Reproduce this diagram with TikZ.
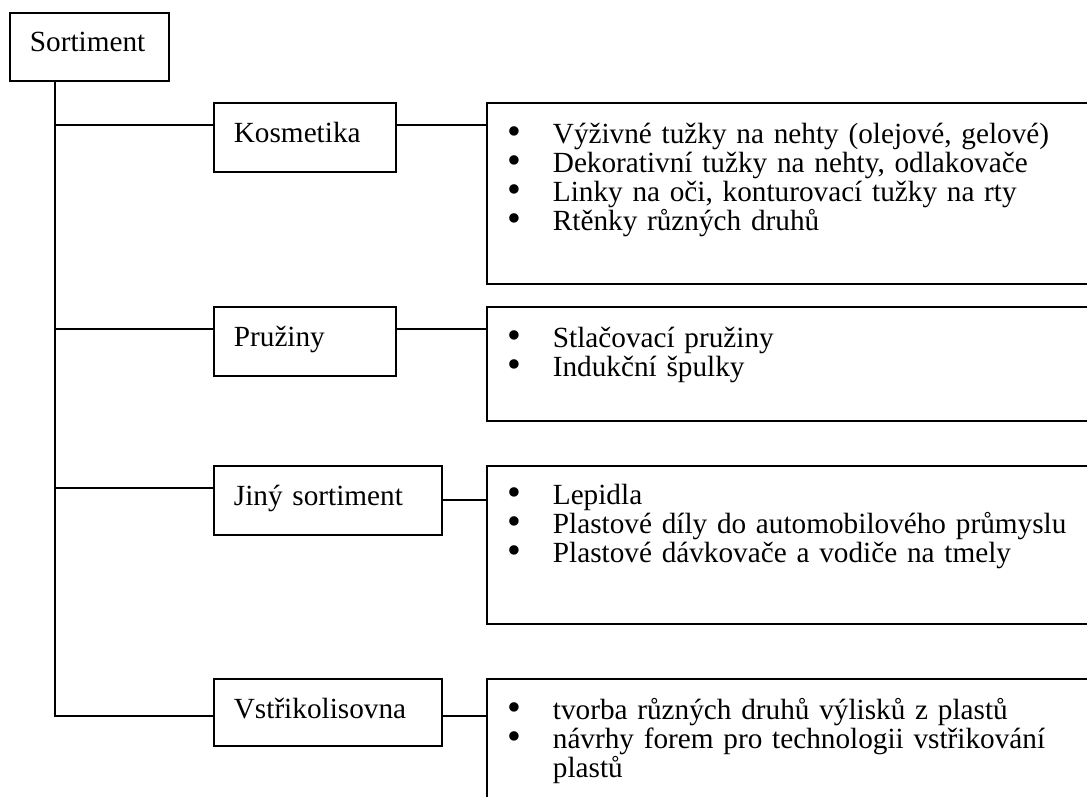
\documentclass[tikz,border=0pt]{standalone}
\usepackage{graphicx}
\usepackage{fontspec}
\setmainfont{Liberation Serif}
\usetikzlibrary{calc}
\newcommand{\bul}[1]{\makebox[18pt][l]{\smash{\raisebox{-0.4pt}{\scalebox{1.35}{\textbullet}}}}#1}
\newcommand{\cont}[1]{\makebox[18pt][l]{}#1}

\begin{document}
\begin{tikzpicture}[x=0.4pt,y=-0.4pt,line width=0.7pt,
		box/.style={draw,anchor=north west,inner xsep=8pt,inner ysep=0pt,align=left,
			font=\fontsize{11.7}{11.6}\selectfont,text height=16pt,text depth=11.6pt},
		list/.style={box,inner xsep=8.4pt,text width=233pt,text height=16.4pt}]
	\clip (0,0) rectangle (1087,797);
	\node[box,text width=47.6pt,text height=15.6pt] (sort) at (9,12) {Sortiment};
	\node[box,text width=56.8pt] (kos)  at (213,102) {Kosmetika};
	\node[box,text width=56.8pt] (pru)  at (213,306) {Pružiny};
	\node[box,text width=75.2pt] (jiny) at (213,465) {Jiný sortiment};
	\node[box,text width=75.2pt,text depth=10.8pt] (vst) at (213,678) {Vstřikolisovna};
	\node[list,text depth=56pt] (kosi) at (486,102) {\bul{Výživné tužky na nehty (olejové, gelové)}\\
		\bul{Dekorativní tužky na nehty, odlakovače}\\
		\bul{Linky na oči, konturovací tužky na rty}\\
		\bul{Rtěnky různých druhů}};
	\node[list,text depth=29.2pt] (prui) at (486,306) {\bul{Stlačovací pružiny}\\
		\bul{Indukční špulky}};
	\node[list,text height=15.6pt,text depth=47.6pt] (jinyi) at (486,465) {\bul{Lepidla}\\
		\bul{Plastové díly do automobilového průmyslu}\\
		\bul{Plastové dávkovače a vodiče na tmely}};
	\node[list,text depth=60pt] (vsti) at (486,678) {\bul{tvorba různých druhů výlisků z plastů}\\
		\bul{návrhy forem pro technologii vstřikování}\\
		\cont{plastů}};
	\coordinate (trunk) at ($(sort.south west)+(46,0)$);
	\draw (trunk) |- ($(vst.north west)+(0,38)$);
	\draw ($(kos.north west)+(0,23)$) coordinate (k1) -- (k1 -| trunk);
	\draw ($(pru.north west)+(0,23)$) coordinate (p1) -- (p1 -| trunk);
	\draw ($(jiny.north west)+(0,23)$) coordinate (j1) -- (j1 -| trunk);
	\draw ($(kos.north east)+(0,23)$) coordinate (k2) -- (k2 -| kosi.west);
	\draw ($(pru.north east)+(0,23)$) coordinate (p2) -- (p2 -| prui.west);
	\draw (jiny.east) -- (jiny.east -| jinyi.west);
	\draw ($(vst.north east)+(0,38)$) coordinate (v2) -- (v2 -| vsti.west);
\end{tikzpicture}
\end{document}
